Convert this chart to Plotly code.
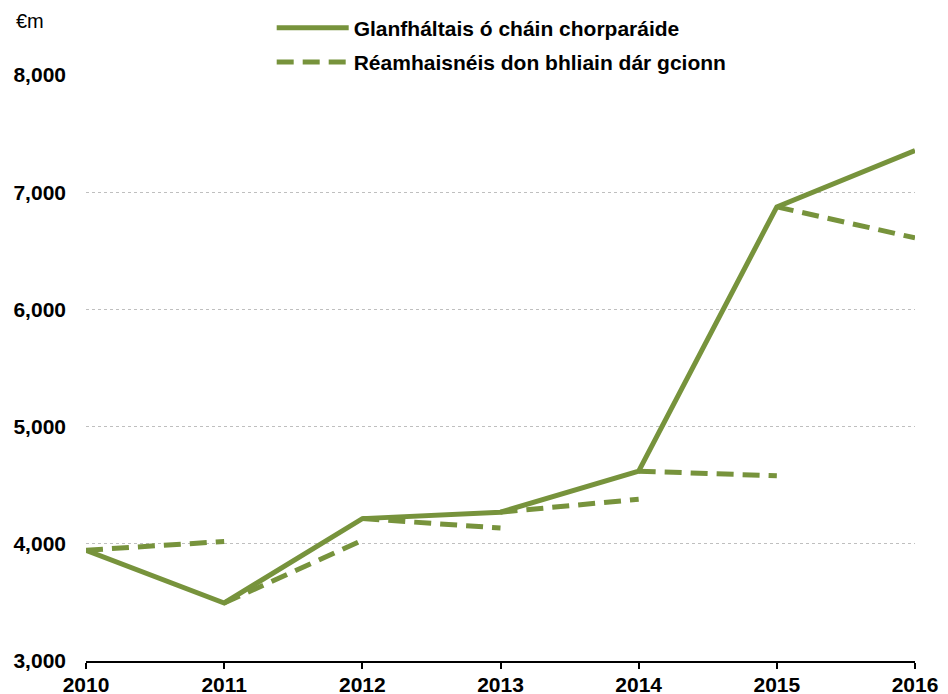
import plotly.graph_objects as go

# data (EUR m)
years = [2010, 2011, 2012, 2013, 2014, 2015, 2016]
receipts = [3945, 3495, 4215, 4270, 4620, 6875, 7355]
# forecast made in each year for the following year (2011..2016)
forecast_next = [4020, 4030, 4135, 4380, 4580, 6610]

y_ticks = [3000, 4000, 5000, 6000, 7000, 8000]

green = "#77933C"
font_family = "Liberation Sans, Arial, sans-serif"
fs = 21

# build dashed forecast segments: from each year's outturn to next year's forecast
fx, fy = [], []
for i, fc in enumerate(forecast_next):
    fx += [years[i], years[i + 1], None]
    fy += [receipts[i], fc, None]

fig = go.Figure()
fig.add_trace(go.Scatter(
    x=years, y=receipts, mode="lines", name="Glanfháltais ó cháin chorparáide",
    legendgroup="a", line=dict(color=green, width=5)))
fig.add_trace(go.Scatter(
    x=fx, y=fy, mode="lines", name="Réamhaisnéis don bhliain dár gcionn",
    legendgroup="b", line=dict(color=green, width=5, dash="17px,9px"),
    connectgaps=False))

# page body has an 8px margin, so the figure is sized to fit the window
fig.update_layout(
    width=940, height=686,
    margin=dict(l=78, r=33, t=67, b=33, autoexpand=False),
    plot_bgcolor="white", paper_bgcolor="white",
    font=dict(family=font_family, size=fs, color="black"),
    showlegend=True,
    legend=dict(
        x=0.224, y=1.115, xanchor="left", yanchor="top",
        font=dict(family=font_family, size=fs, color="black", weight="bold"),
        itemwidth=72, tracegroupgap=4, bgcolor="rgba(0,0,0,0)"),
    annotations=[dict(
        text="€m", xref="paper", yref="paper", x=-0.068, y=1.092,
        xanchor="center", yanchor="middle", showarrow=False,
        font=dict(family=font_family, size=20, color="black"))],
)

fig.update_xaxes(
    range=[2010, 2016], tickvals=years, ticktext=[str(y) for y in years],
    showline=True, linecolor="black", linewidth=2,
    ticks="outside", ticklen=6, tickwidth=2, tickcolor="black",
    showgrid=False, zeroline=False, ticklabelstandoff=-2,
    tickfont=dict(family=font_family, size=fs, color="black", weight="bold"))
fig.update_yaxes(
    range=[3000, 8000], tickvals=y_ticks, tickformat=",",
    showline=False, ticks="", zeroline=False,
    showgrid=True, gridcolor="#BFBFBF", gridwidth=1, griddash="dot",
    tickfont=dict(family=font_family, size=fs, color="black", weight="bold"),
    ticklabelstandoff=19)

fig.write_html("out.html")
